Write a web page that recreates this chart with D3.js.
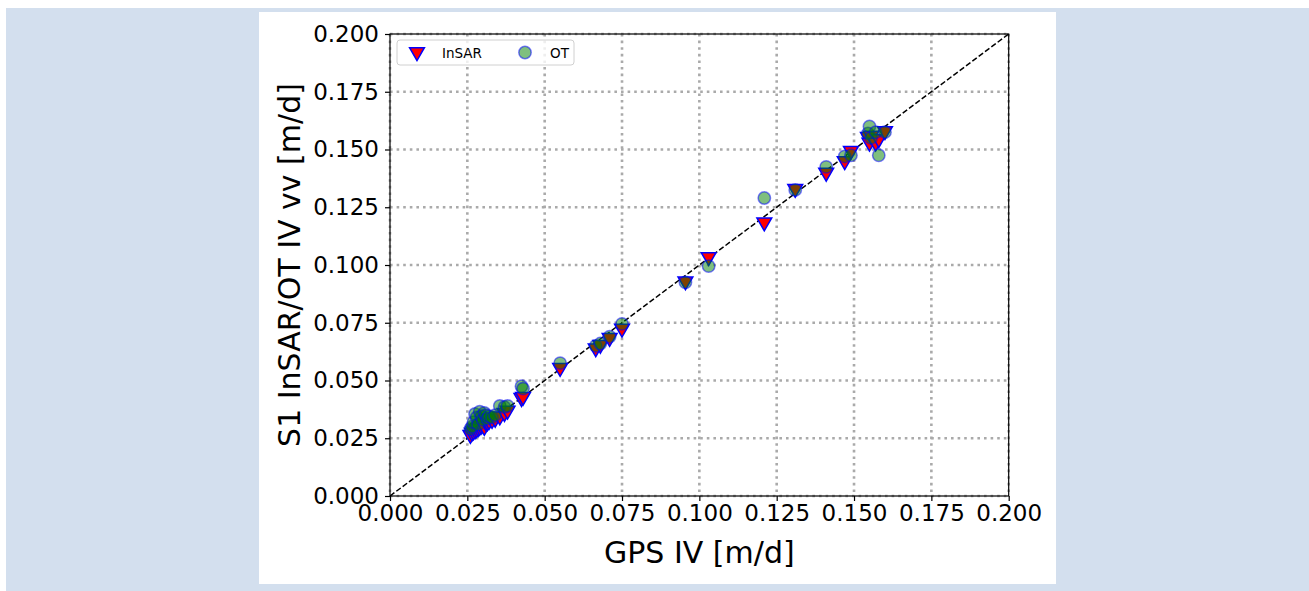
<!DOCTYPE html>
<html>
<head>
<meta charset="utf-8">
<script src="https://cdn.jsdelivr.net/npm/d3@7"></script>
<style>
  body { margin: 0; background: #fff; }
  text { font-family: "DejaVu Sans", sans-serif; }
</style>
</head>
<body>
<div class="mainVis"></div>
<script>
// GPS ice velocity (x) and the two estimates against it
var gpsIV = [0.0260, 0.0265, 0.0270, 0.0275, 0.0280, 0.0285, 0.0290, 0.0295, 0.0300, 0.0305,
             0.0310, 0.0315, 0.0320, 0.0330, 0.0340, 0.0355, 0.0370, 0.0380, 0.0425, 0.0430,
             0.0550, 0.0665, 0.0680, 0.0710, 0.0750, 0.0955, 0.1030, 0.1210, 0.1310, 0.1410,
             0.1470, 0.1490, 0.1545, 0.1550, 0.1555, 0.1570, 0.1580, 0.1600]
var insarIV = [0.0265, 0.0275, 0.0280, 0.0285, 0.0290, 0.0295, 0.0300, 0.0305, 0.0310, 0.0300,
               0.0320, 0.0320, 0.0325, 0.0330, 0.0335, 0.0345, 0.0360, 0.0370, 0.0425, 0.0430,
               0.0555, 0.0640, 0.0655, 0.0685, 0.0725, 0.0930, 0.1035, 0.1185, 0.1330, 0.1400,
               0.1450, 0.1495, 0.1555, 0.1530, 0.1560, 0.1530, 0.1545, 0.1580]
var otIV = [0.0290, 0.0300, 0.0320, 0.0355, 0.0340, 0.0310, 0.0365, 0.0345, 0.0330, 0.0360,
            0.0350, 0.0335, 0.0345, 0.0340, 0.0350, 0.0390, 0.0385, 0.0390, 0.0475, 0.0465,
            0.0575, 0.0650, 0.0660, 0.0690, 0.0745, 0.0925, 0.0995, 0.1290, 0.1325, 0.1425,
            0.1470, 0.1475, 0.1570, 0.1600, 0.1550, 0.1575, 0.1475, 0.1575]
var tickValues = [0, 0.025, 0.05, 0.075, 0.1, 0.125, 0.15, 0.175, 0.2]

var W = 1309, H = 591
var pL = 390, pR = 1008.7, pT = 34, pB = 496

var svg = d3.select(".mainVis").append("svg")
    .attr("width", W)
    .attr("height", H)

svg.append("rect").attr("x", 0).attr("y", 0).attr("width", W).attr("height", H).attr("fill", "white")
svg.append("rect").attr("x", 6).attr("y", 8).attr("width", W - 6).attr("height", H - 8).attr("fill", "#d3dfee")
svg.append("rect").attr("x", 259).attr("y", 12).attr("width", 797).attr("height", 572).attr("fill", "white")

var x = d3.scaleLinear().domain([0, 0.2]).range([pL, pR])
var y = d3.scaleLinear().domain([0, 0.2]).range([pB, pT])

// dotted grid
var grid = svg.append("g")
grid.selectAll(".gx").data(tickValues).enter().append("line")
    .attr("x1", function(d) { return x(d) }).attr("x2", function(d) { return x(d) })
    .attr("y1", pT).attr("y2", pB)
grid.selectAll(".gy").data(tickValues).enter().append("line")
    .attr("y1", function(d) { return y(d) }).attr("y2", function(d) { return y(d) })
    .attr("x1", pL).attr("x2", pR)
grid.selectAll("line")
    .attr("stroke", "#aaaaaa")
    .attr("stroke-width", 2.6)
    .attr("stroke-dasharray", "2.6,4")

// 1:1 line
svg.append("line")
    .attr("x1", x(0)).attr("y1", y(0)).attr("x2", x(0.2)).attr("y2", y(0.2))
    .attr("stroke", "black").attr("stroke-width", 1.5).attr("stroke-dasharray", "5.5,2.4")

var points = gpsIV.map(function(g, i) { return { gps: g, insar: insarIV[i], ot: otIV[i] } })

var tri = d3.symbol().type(d3.symbolTriangle).size(95)

svg.append("g").selectAll("path").data(points).enter().append("path")
    .attr("d", tri)
    .attr("transform", function(d) { return "translate(" + x(d.gps) + "," + y(d.insar) + ") rotate(180)" })
    .attr("fill", "red")
    .attr("stroke", "blue")
    .attr("stroke-width", 1.5)

svg.append("g").selectAll("circle").data(points).enter().append("circle")
    .attr("cx", function(d) { return x(d.gps) })
    .attr("cy", function(d) { return y(d.ot) })
    .attr("r", 6.2)
    .attr("fill", "green").attr("fill-opacity", 0.5)
    .attr("stroke", "blue").attr("stroke-opacity", 0.5)
    .attr("stroke-width", 1.5)

// axes
var fmt = d3.format(".3f")
svg.append("g").attr("transform", "translate(0," + pB + ")")
    .call(d3.axisBottom(x).tickValues(tickValues).tickFormat(fmt).tickSize(5).tickPadding(4))
svg.append("g").attr("transform", "translate(" + pL + ",0)")
    .call(d3.axisLeft(y).tickValues(tickValues).tickFormat(fmt).tickSize(5).tickPadding(6))
svg.selectAll(".tick text").style("font-size", "23px").attr("fill", "black")
svg.selectAll(".domain").remove()
svg.selectAll(".tick line").attr("stroke", "black").attr("stroke-width", 1.2)

svg.append("rect")
    .attr("x", pL).attr("y", pT).attr("width", pR - pL).attr("height", pB - pT)
    .attr("fill", "none").attr("stroke", "black").attr("stroke-width", 1.2)

svg.append("text")
    .attr("x", (pL + pR) / 2).attr("y", 563)
    .attr("text-anchor", "middle")
    .style("font-size", "30px")
    .text("GPS IV [m/d]")

svg.append("text")
    .attr("transform", "translate(300," + ((pT + pB) / 2) + ") rotate(-90)")
    .attr("text-anchor", "middle")
    .style("font-size", "30px")
    .text("S1 InSAR/OT IV vv [m/d]")

// legend
var legend = svg.append("g")
legend.append("rect")
    .attr("x", 397).attr("y", 40).attr("width", 177).attr("height", 25).attr("rx", 3)
    .attr("fill", "white").attr("fill-opacity", 0.8)
    .attr("stroke", "#d0d0d0").attr("stroke-width", 1)
legend.append("path")
    .attr("d", tri)
    .attr("transform", "translate(417,52) rotate(180)")
    .attr("fill", "red").attr("stroke", "blue").attr("stroke-width", 1.5)
legend.append("circle")
    .attr("cx", 525).attr("cy", 52.5).attr("r", 6.2)
    .attr("fill", "green").attr("fill-opacity", 0.5)
    .attr("stroke", "blue").attr("stroke-opacity", 0.5).attr("stroke-width", 1.5)
legend.append("text").attr("x", 442).attr("y", 57.5).style("font-size", "13.5px").text("InSAR")
legend.append("text").attr("x", 550).attr("y", 57.5).style("font-size", "13.5px").text("OT")
</script>
</body>
</html>
